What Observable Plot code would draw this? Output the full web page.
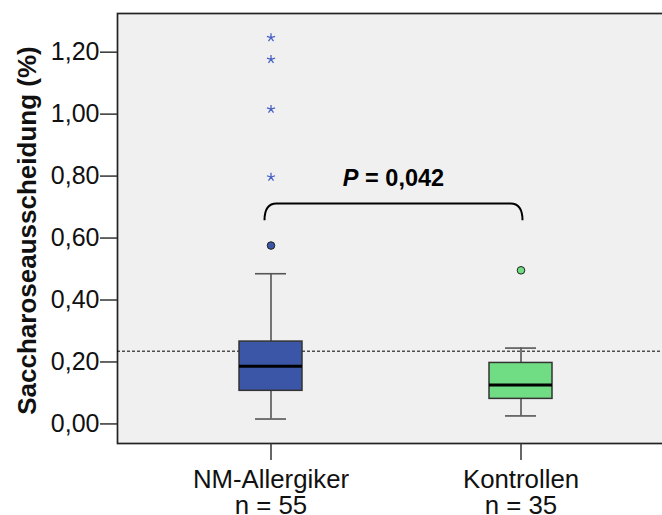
<!DOCTYPE html>
<html><head><meta charset="utf-8">
<script src="https://cdn.jsdelivr.net/npm/d3@7"></script>
<script src="https://cdn.jsdelivr.net/npm/@observablehq/plot@0.6"></script>
<style>body{margin:0;background:#fff;overflow:hidden;}</style>
</head><body><div id="chart"></div>
<script>
// ---- data ----
const categories = ["NM-Allergiker", "Kontrollen"];
const counts = [55, 35];
const q1 = [0.102, 0.076];
const medians = [0.181, 0.121];
const q3 = [0.261, 0.192];
const whiskerLow = [0.011, 0.021];
const whiskerHigh = [0.480, 0.240];
const outlierGroups = ["NM-Allergiker", "Kontrollen"];
const outlierValues = [0.571, 0.491];
const extremeGroups = ["NM-Allergiker", "NM-Allergiker", "NM-Allergiker", "NM-Allergiker"];
const extremeValues = [1.242, 1.172, 1.011, 0.792];
const yTicks = [0, 0.2, 0.4, 0.6, 0.8, 1.0, 1.2];
const referenceValue = 0.23;
const pValue = "0,042";
const bracketLevel = 0.705;
const bracketEnd = 0.651;
const labelLevel = 0.761;
const yTitle = "Saccharoseausscheidung (%)";
const boxColors = ["#3c56a7", "#70dc84"];
const extremeColor = "#4a63c4";

// ---- tables ----
const boxes = categories.map((c, i) => ({group: c, q1: q1[i], median: medians[i], q3: q3[i], lo: whiskerLow[i], hi: whiskerHigh[i]}));
const outliers = outlierGroups.map((g, i) => ({group: g, value: outlierValues[i]}));
const extremes = extremeGroups.map((g, i) => ({group: g, value: extremeValues[i]}));

// five-armed asterisk (SPSS extreme marker)
const asterisk5 = {
  draw(context, size) {
    const r = Math.sqrt(size / Math.PI);
    for (let k = 0; k < 5; k++) {
      const a = -Math.PI / 2 + k * 2 * Math.PI / 5;
      context.moveTo(0, 0);
      context.lineTo(r * Math.cos(a), r * Math.sin(a));
    }
  }
};

function annotation(index, scales, values, dimensions, context) {
  const xs = scales.x;
  let bw = 0;
  if (typeof xs.bandwidth === "function") bw = xs.bandwidth();
  else if (scales.scales && scales.scales.x && scales.scales.x.bandwidth) bw = scales.scales.x.bandwidth;
  const xa = xs(categories[0]) + bw / 2 - 6;
  const xb = xs(categories[1]) + bw / 2 + 2;
  const yt = scales.y(bracketLevel), yb = scales.y(bracketEnd), yl = scales.y(labelLevel);
  const r = 12;
  const g = d3.create("svg:g");
  g.append("path")
    .attr("d", `M${xa},${yb} Q${xa},${yt} ${xa + r},${yt} L${xb - r},${yt} Q${xb},${yt} ${xb},${yb}`)
    .attr("fill", "none").attr("stroke", "#000").attr("stroke-width", 2);
  const t = g.append("text")
    .attr("x", (xa + xb) / 2).attr("y", yl)
    .attr("text-anchor", "middle").attr("font-size", 23.5).attr("font-weight", "bold").attr("fill", "#000");
  t.append("tspan").attr("font-style", "italic").text("P");
  t.append("tspan").text(` = ${pValue}`);
  return g.node();
}

const fmt = d => d3.format(".2f")(d).replace(".", ",");

const plot = Plot.plot({
  width: 662,
  height: 515,
  marginLeft: 117,
  marginRight: -3,
  marginTop: 13,
  marginBottom: 72,
  style: {fontFamily: "'Liberation Sans', Arial, Helvetica, sans-serif", background: "#fff", color: "#111"},
  x: {type: "band", domain: categories, range: [238.5, 552.5], paddingInner: 0.749, paddingOuter: 0, label: null},
  y: {domain: [-0.068, 1.32], label: null},
  color: {domain: categories, range: boxColors},
  marks: [
    Plot.frame({fill: "#f0f0f0", stroke: "#222", strokeWidth: 1.7}),
    Plot.ruleY([referenceValue], {stroke: "#000", strokeWidth: 1, strokeDasharray: "3,2"}),
    Plot.ruleX(boxes, {x: "group", y1: "lo", y2: "q1", stroke: "#555", strokeWidth: 1.6}),
    Plot.ruleX(boxes, {x: "group", y1: "q3", y2: "hi", stroke: "#555", strokeWidth: 1.6}),
    Plot.tickY(boxes, {x: "group", y: "lo", insetLeft: 16, insetRight: 16, stroke: "#555", strokeWidth: 1.6}),
    Plot.tickY(boxes, {x: "group", y: "hi", insetLeft: 16, insetRight: 16, stroke: "#555", strokeWidth: 1.6}),
    Plot.barY(boxes, {x: "group", y1: "q1", y2: "q3", fill: "group", stroke: "#333", strokeWidth: 1.5}),
    Plot.tickY(boxes, {x: "group", y: "median", stroke: "#000", strokeWidth: 3}),
    Plot.dot(outliers, {x: "group", y: "value", r: 3.8, fill: "group", stroke: "#222", strokeWidth: 1}),
    Plot.dot(extremes, {x: "group", y: "value", r: 4.3, symbol: asterisk5, fill: "none", stroke: extremeColor, strokeWidth: 1.3}),
    Plot.axisY({ticks: yTicks, tickSize: 17, tickPadding: 1, tickFormat: fmt, fontSize: 25, dy: 1.5, stroke: "#333", strokeWidth: 1.5, label: null}),
    Plot.axisX({tickSize: 17, tickPadding: 9, tickFormat: (d) => `${d}\nn = ${counts[categories.indexOf(d)]}`, fontSize: 25.8, stroke: "#333", strokeWidth: 1.5, label: null}),
    Plot.text([yTitle], {text: d => d, frameAnchor: "left", textAnchor: "middle", rotate: -90, dx: -90, dy: 2, fontSize: 26, fontWeight: "bold", fill: "#111"}),
    annotation
  ]
});
document.getElementById("chart").appendChild(plot);
</script>
</body></html>
